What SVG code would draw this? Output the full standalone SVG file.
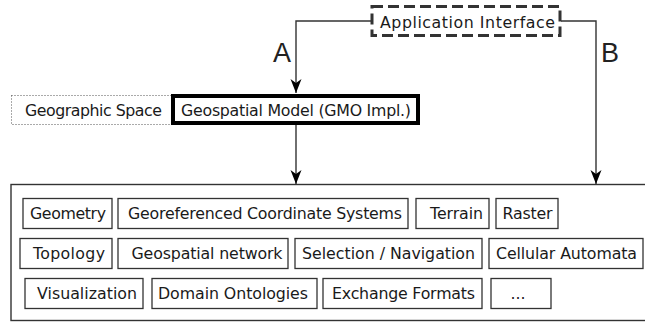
<svg xmlns="http://www.w3.org/2000/svg" width="645" height="322" viewBox="0 0 645 322">
<defs>
<style>
.t{font-family:"DejaVu Sans","Liberation Sans",sans-serif;font-size:15.8px;fill:#1a1a1a;text-anchor:middle}
.b{fill:#fff;stroke:#333;stroke-width:1.3}
.lbl{font-family:"Liberation Sans",Arial,sans-serif;font-size:27px;fill:#222}
.c{fill:none;stroke:#333;stroke-width:1.4}
</style>
<marker id="ah" viewBox="-15 -7 16 14" refX="0" refY="0" markerWidth="16" markerHeight="14" markerUnits="userSpaceOnUse" orient="auto">
<path d="M0,0 L-14,-5.5 L-10,0 L-14,5.5 Z" fill="#000"/>
</marker>
</defs>
<rect width="645" height="322" fill="#fff"/>

<g id="app-interface">
<rect x="372" y="6.5" width="188" height="29" fill="#fff" stroke="#333" stroke-width="3" stroke-dasharray="11 5"/>
<text class="t" x="467.5" y="28" font-size="16.5" textLength="175">Application Interface</text>
</g>

<g id="geographic-space">
<rect x="11.5" y="95.5" width="165" height="29" fill="#fff" stroke="#555" stroke-width="1" stroke-dasharray="1 2"/>
<text class="t" x="93.5" y="116" textLength="137">Geographic Space</text>
</g>

<g id="geospatial-model">
<rect x="173" y="96" width="245" height="27" fill="#fff" stroke="#000" stroke-width="4"/>
<text class="t" x="296" y="115.5" textLength="230">Geospatial Model (GMO Impl.)</text>
</g>

<g id="connectors">
<path class="c" d="M371,21 H296 V93" marker-end="url(#ah)"/>
<path class="c" d="M561,21 H596 V184" marker-end="url(#ah)"/>
<path class="c" d="M296,125 V184" marker-end="url(#ah)"/>
<text class="lbl" x="273" y="62">A</text>
<text class="lbl" x="601" y="62">B</text>
</g>

<g id="container">
<rect x="11" y="184.5" width="650" height="136" fill="none" stroke="#333" stroke-width="1.4"/>
</g>

<g id="geometry"><rect class="b" x="23" y="198.5" width="89" height="30"/><text class="t" x="68" y="219" textLength="76">Geometry</text></g>
<g id="georef"><rect class="b" x="118" y="198.5" width="290" height="30"/><text class="t" x="265" y="219" textLength="274">Georeferenced Coordinate Systems</text></g>
<g id="terrain"><rect class="b" x="416" y="198.5" width="73" height="30"/><text class="t" x="456.5" y="219" textLength="53">Terrain</text></g>
<g id="raster"><rect class="b" x="496" y="198.5" width="62" height="30"/><text class="t" x="527.5" y="219" textLength="50">Raster</text></g>

<g id="topology"><rect class="b" x="20" y="238.5" width="92" height="30"/><text class="t" x="69" y="259" textLength="72">Topology</text></g>
<g id="geospatial-network"><rect class="b" x="118" y="238.5" width="170" height="30"/><text class="t" x="207" y="259" textLength="151">Geospatial network</text></g>
<g id="selection"><rect class="b" x="295" y="238.5" width="187" height="30"/><text class="t" x="388.5" y="259" textLength="173">Selection / Navigation</text></g>
<g id="cellular"><rect class="b" x="489" y="238.5" width="154" height="30"/><text class="t" x="566.5" y="259" textLength="141">Cellular Automata</text></g>

<g id="visualization"><rect class="b" x="25" y="278.5" width="118" height="30"/><text class="t" x="87" y="299" textLength="100">Visualization</text></g>
<g id="domain-ontologies"><rect class="b" x="152" y="278.5" width="165" height="30"/><text class="t" x="233" y="299" textLength="150">Domain Ontologies</text></g>
<g id="exchange"><rect class="b" x="323" y="278.5" width="159" height="30"/><text class="t" x="403.5" y="299" textLength="143">Exchange Formats</text></g>
<g id="more"><rect class="b" x="491" y="278.5" width="60" height="30"/><text class="t" x="518" y="299">...</text></g>
</svg>
